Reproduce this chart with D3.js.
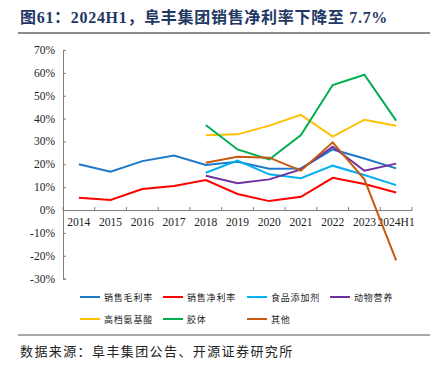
<!DOCTYPE html>
<html><head><meta charset="utf-8">
<script src="https://cdn.jsdelivr.net/npm/d3@7"></script>
<style>body{margin:0;background:#fff}svg{display:block}</style>
</head><body><svg id="c" width="436" height="375"></svg>
<script>
const categories = ["2014","2015","2016","2017","2018","2019","2020","2021","2022","2023","2024H1"];
const grossMargin = [20.0,16.8,21.4,23.8,19.7,21.1,18.1,18.2,26.5,22.5,18.2];
const netMargin = [5.4,4.4,9.2,10.5,13.1,7.0,3.9,5.8,14.1,11.4,7.7];
const foodAdditive = [null,null,null,null,16.3,21.6,15.6,13.9,19.4,15.3,10.9];
const animalNutrition = [null,null,null,null,15.0,11.7,13.4,17.8,27.7,17.2,20.3];
const highEndAminoAcid = [null,null,null,null,32.7,33.1,36.9,41.6,32.1,39.5,36.9];
const colloid = [null,null,null,null,37.2,26.5,22.1,32.8,54.7,59.2,39.1];
const others = [null,null,null,null,20.7,23.3,22.9,17.2,29.6,13.4,-22.0];
const yTicks = [70,60,50,40,30,20,10,0,-10,-20,-30];
const seriesNames = ["销售毛利率","销售净利率","食品添加剂","动物营养","高档氨基酸","胶体","其他"];
const seriesColors = ["#1F78C8","#FF0000","#00B0F0","#7030A0","#FFC000","#00B050","#C55A11"];
const seriesData = [grossMargin,netMargin,foodAdditive,animalNutrition,highEndAminoAcid,colloid,others];

const svg = d3.select("#c");
const serif = "'Liberation Serif','Times New Roman',serif";
const cjk = "'Noto Sans CJK SC',sans-serif";

svg.append("text").attr("x",20).attr("y",23)
  .attr("font-family","'Liberation Serif','Noto Sans CJK SC',serif")
  .attr("font-weight","bold").attr("font-size",16).attr("letter-spacing",0.7).attr("fill","#1F3864")
  .text("图61：2024H1，阜丰集团销售净利率下降至 7.7%");
svg.append("line").attr("x1",18).attr("x2",430).attr("y1",33).attr("y2",33)
  .attr("stroke","#8c8c8c").attr("stroke-width",2);

const x = d3.scaleBand().domain(categories).range([63,412]);
const y = d3.scaleLinear().domain([-30,70]).range([278.6,50]);

// y axis
const ya = svg.append("g").attr("transform","translate(63,0)")
  .call(d3.axisRight(y).tickValues(yTicks).tickSize(3).tickFormat(""));
ya.select(".domain").attr("stroke","#808080");
ya.selectAll("line").attr("stroke","#808080");
svg.append("g").selectAll("text").data(yTicks).join("text")
  .attr("x",55).attr("y",d=>y(d)+4).attr("text-anchor","end")
  .attr("font-family",serif).attr("font-size",11.5).attr("fill","#222")
  .text(d=>d+"%");

// x axis at 0
const xa = svg.append("g").attr("transform",`translate(0,${y(0)})`)
  .call(d3.axisTop(x).tickSize(0).tickFormat(""));
xa.select(".domain").attr("stroke","#808080");
const bounds = categories.map(c=>x(c)).concat([x.range()[1]]);
svg.append("g").selectAll("line").data(bounds).join("line")
  .attr("x1",d=>d).attr("x2",d=>d).attr("y1",y(0)).attr("y2",y(0)-3)
  .attr("stroke","#808080");
svg.append("g").selectAll("text").data(categories).join("text")
  .attr("x",d=>x(d)+x.bandwidth()/2).attr("y",y(0)+16).attr("text-anchor","middle")
  .attr("font-family",serif).attr("font-size",11.5).attr("fill","#222")
  .text(d=>d);

const line = d3.line().defined(d=>d.v!==null)
  .x(d=>x(d.c)+x.bandwidth()/2).y(d=>y(d.v));
seriesData.forEach((s,i)=>{
  svg.append("path").datum(categories.map((c,j)=>({c,v:s[j]})))
    .attr("d",line).attr("fill","none").attr("stroke",seriesColors[i])
    .attr("stroke-width",2).attr("stroke-linejoin","miter");
});

// legend
const legPos = [[80,297],[163,297],[247,297],[330,297],[80,319],[163,319],[247,319]];
const lg = svg.append("g").selectAll("g").data(seriesNames).join("g")
  .attr("transform",(d,i)=>`translate(${legPos[i][0]},${legPos[i][1]})`);
lg.append("line").attr("x1",0).attr("x2",20).attr("y1",0).attr("y2",0)
  .attr("stroke",(d,i)=>seriesColors[i]).attr("stroke-width",2);
lg.append("text").attr("x",24).attr("y",3.5).attr("font-family",cjk).attr("font-size",9)
  .attr("letter-spacing",0.8).attr("fill","#222").text(d=>d);

svg.append("line").attr("x1",18).attr("x2",430).attr("y1",335).attr("y2",335)
  .attr("stroke","#8c8c8c").attr("stroke-width",1.5);
svg.append("text").attr("x",20).attr("y",356).attr("font-family",cjk)
  .attr("font-size",13).attr("letter-spacing",1.4).attr("fill","#222").text("数据来源：阜丰集团公告、开源证券研究所");
</script></body></html>
